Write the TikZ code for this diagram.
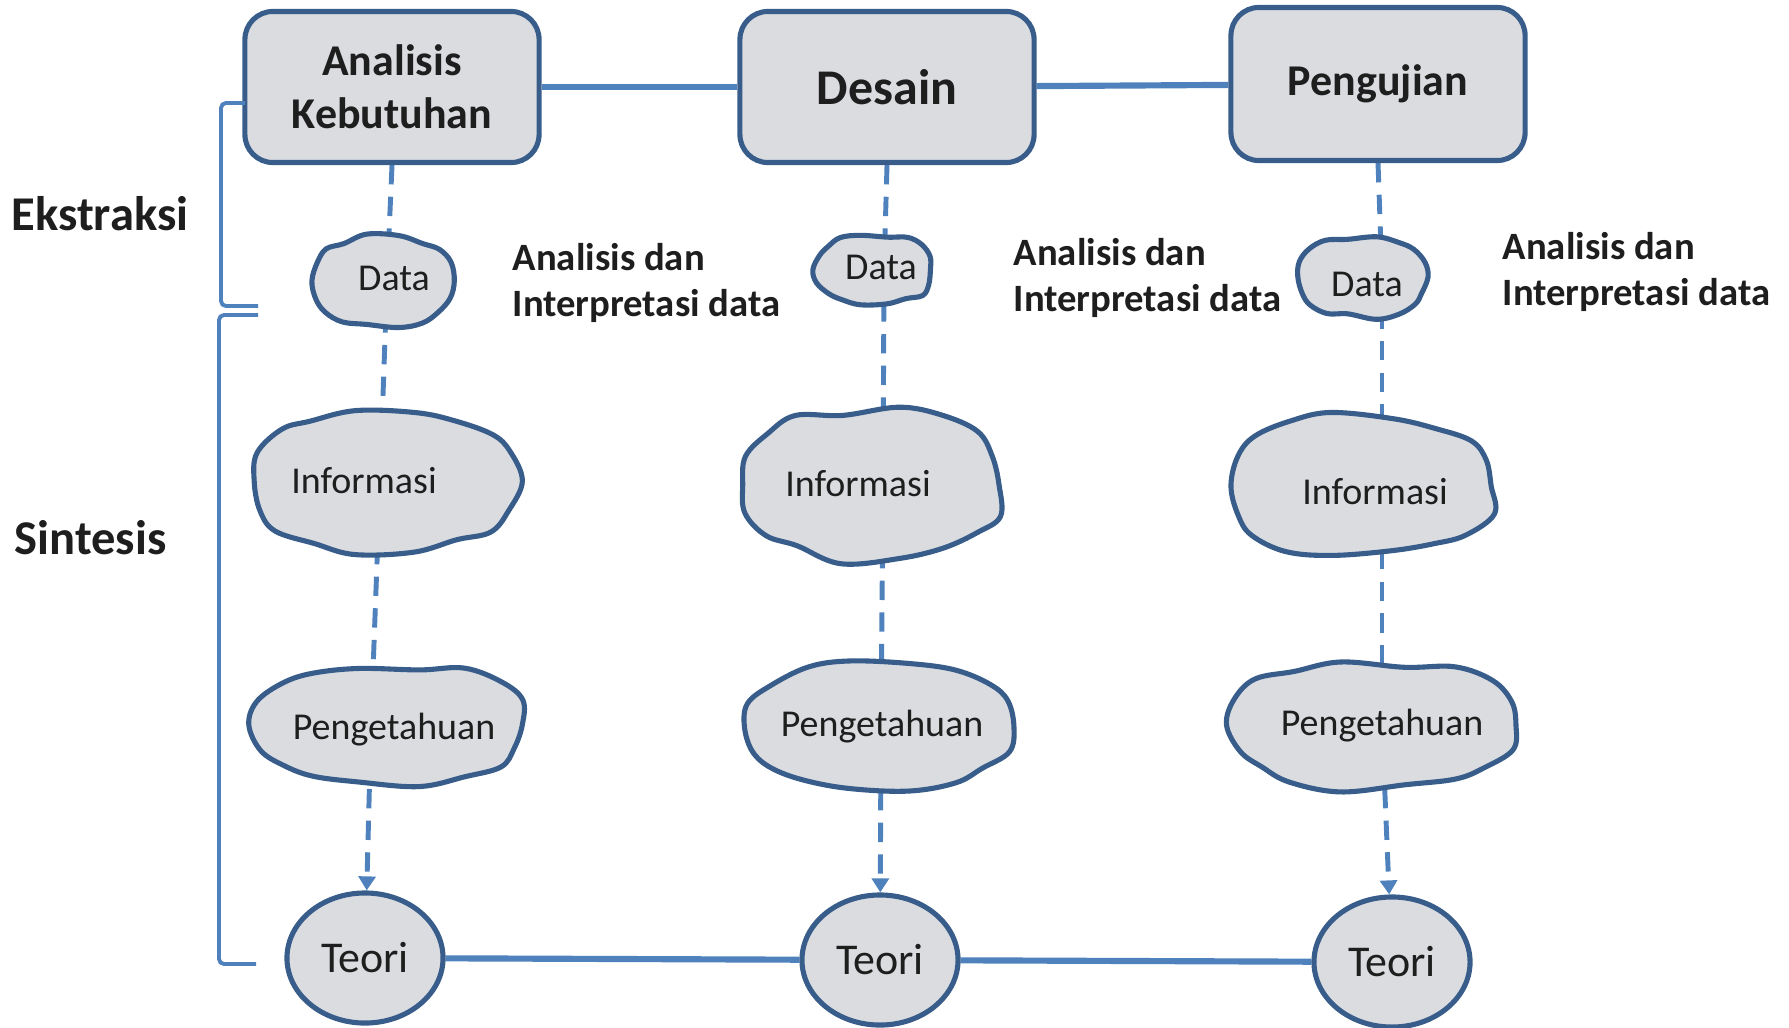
\documentclass[tikz,border=0pt]{standalone}
\usepackage{fontspec}
\setmainfont{Carlito}
\usetikzlibrary{shapes.geometric,arrows.meta,positioning}

\definecolor{linkblue}{RGB}{79,129,189}
\definecolor{edgeblue}{RGB}{56,93,138}
\definecolor{shapefill}{RGB}{218,220,224}
\definecolor{txt}{RGB}{30,30,30}

\pgfdeclarelayer{bg}
\pgfdeclarelayer{mid}
\pgfsetlayers{bg,mid,main}

\tikzset{
  phase/.style={draw=edgeblue, fill=shapefill, line width=1.45pt, rounded corners=0.28cm,
    minimum width=2.94cm, minimum height=1.51cm, align=center, text=txt,
    font=\bfseries\fontsize{12.5}{15}\selectfont},
  blobspot/.style={inner sep=0pt, minimum size=0pt},
  blobtext/.style={inner sep=0pt, text=txt, font=\fontsize{10.8}{13}\selectfont},
  teori/.style={ellipse, draw=edgeblue, fill=shapefill, line width=1.45pt,
    minimum width=1.56cm, minimum height=1.3cm, inner sep=0pt, text=txt,
    font=\fontsize{12.5}{15}\selectfont},
  blobline/.style={draw=edgeblue, fill=shapefill, line width=1.45pt},
  flow/.style={linkblue, line width=1.75pt},
  flowdash/.style={linkblue, line width=1.4pt, dash pattern=on 5.5pt off 3.5pt},
  tip/.style={-{Triangle[length=4pt,width=4.8pt]}},
  bracket/.style={linkblue, line width=1.1pt, rounded corners=0.05cm},
  sidelabel/.style={anchor=west, inner sep=0pt, text=txt, font=\bfseries\fontsize{13.8}{16}\selectfont},
  notelabel/.style={anchor=west, align=left, inner sep=0pt, text=txt, font=\bfseries\fontsize{11}{13}\selectfont}
}

% irregular blob round a node: #1 node, #2 offset, #3 half width, #4 half height, #5 seed
\newcommand{\blob}[5]{%
  \pgfmathsetseed{#5}%
  \begin{pgfonlayer}{mid}
    \path[blobline, shift={(#1)}, shift={(#2)}]
      plot[smooth cycle, tension=0.6, domain=0:340, samples=18, variable=\t]
      ({#3*cos(\t)*pow(abs(cos(\t))+0.0001,-0.15)*(1+0.045*rand)},
       {#4*sin(\t)*pow(abs(sin(\t))+0.0001,-0.15)*(1+0.08*rand)});
  \end{pgfonlayer}}

\begin{document}
\begin{tikzpicture}[x=0.01cm, y=-0.01cm]
  \useasboundingbox (0,0) rectangle (1789,1027);

  % phases
  \node[phase] (b1) at (392,87) {Analisis\\Kebutuhan};
  \node[phase, font=\bfseries\fontsize{14.2}{17}\selectfont] (b2) at (887,87) {Desain};
  \node[phase, minimum height=1.53cm] (b3) at (1378,84) {Pengujian};

  % data
  \node[blobspot, label={[blobtext, xshift=0.07cm, yshift=0.03cm]center:Data}] (d1) at (387,281) {};
  \node[blobspot, label={[blobtext, xshift=-0.03cm, yshift=0.03cm]center:Data}] (d2) at (884,270) {};
  \node[blobspot, label={[blobtext, xshift=-0.15cm, yshift=-0.07cm]center:Data}] (d3) at (1382,277) {};

  % informasi
  \node[blobspot, label={[blobtext, xshift=-0.16cm]center:Informasi}] (i1) at (380,481) {};
  \node[blobspot, label={[blobtext, xshift=-0.25cm, yshift=0.01cm]center:Informasi}] (i2) at (883,485) {};
  \node[blobspot, label={[blobtext, xshift=-0.07cm, yshift=-0.06cm]center:Informasi}] (i3) at (1382,486) {};

  % pengetahuan
  \node[blobspot, label={[blobtext, xshift=0.23cm, yshift=-0.05cm]center:Pengetahuan}] (p1) at (371,725) {};
  \node[blobspot, label={[blobtext, xshift=0.01cm]center:Pengetahuan}] (p2) at (881,727) {};
  \node[blobspot, label={[blobtext, yshift=-0.01cm]center:Pengetahuan}] (p3) at (1382,725) {};

  % teori
  \node[teori] (t1) at (365,958) {Teori};
  \node[teori] (t2) at (880,960) {Teori};
  \node[teori] (t3) at (1392,962) {Teori};

  \blob{d1}{-4,0}{70}{45}{11}
  \blob{d2}{-10,0}{59}{35}{23}
  \blob{d3}{-20,0}{64}{40}{37}
  \blob{i1}{5,0}{132}{71}{41}
  \blob{i2}{-12,0}{131}{74}{53}
  \blob{i3}{-20,0}{134}{70}{67}
  \blob{p1}{18,0}{137}{60}{71}
  \blob{p2}{-1,0}{134}{63}{83}
  \blob{p3}{-9,0}{145}{63}{97}

  % side labels
  \node[sidelabel] (ekstraksi) at (11,214) {Ekstraksi};
  \node[sidelabel] (sintesis) at (14,538) {Sintesis};
  \node[notelabel] (n1) at (512,283) {Analisis dan\\Interpretasi data};
  \node[notelabel] (n2) at (1013,278) {Analisis dan\\Interpretasi data};
  \node[notelabel] (n3) at (1502,272) {Analisis dan\\Interpretasi data};

  \begin{pgfonlayer}{bg}
    \draw[flow] (b1) -- (b2);
    \draw[flow] (b2) -- (b3);
    \draw[flow] (t1) -- (t2);
    \draw[flow] (t2) -- (t3);
    \foreach \c in {1,2,3} {
      \draw[flowdash] (b\c.south) -- (d\c);
      \draw[flowdash] (d\c) -- (i\c);
      \draw[flowdash] (i\c) -- (p\c);
      \draw[flowdash, tip] (p\c) -- (t\c);
    }
  \end{pgfonlayer}

  % brackets
  \draw[bracket] (245,103) -- (221,103) -- (221,306) -- (258,306);
  \draw[bracket] (258,315) -- (219,315) -- (219,964) -- (256,964);
\end{tikzpicture}
\end{document}
